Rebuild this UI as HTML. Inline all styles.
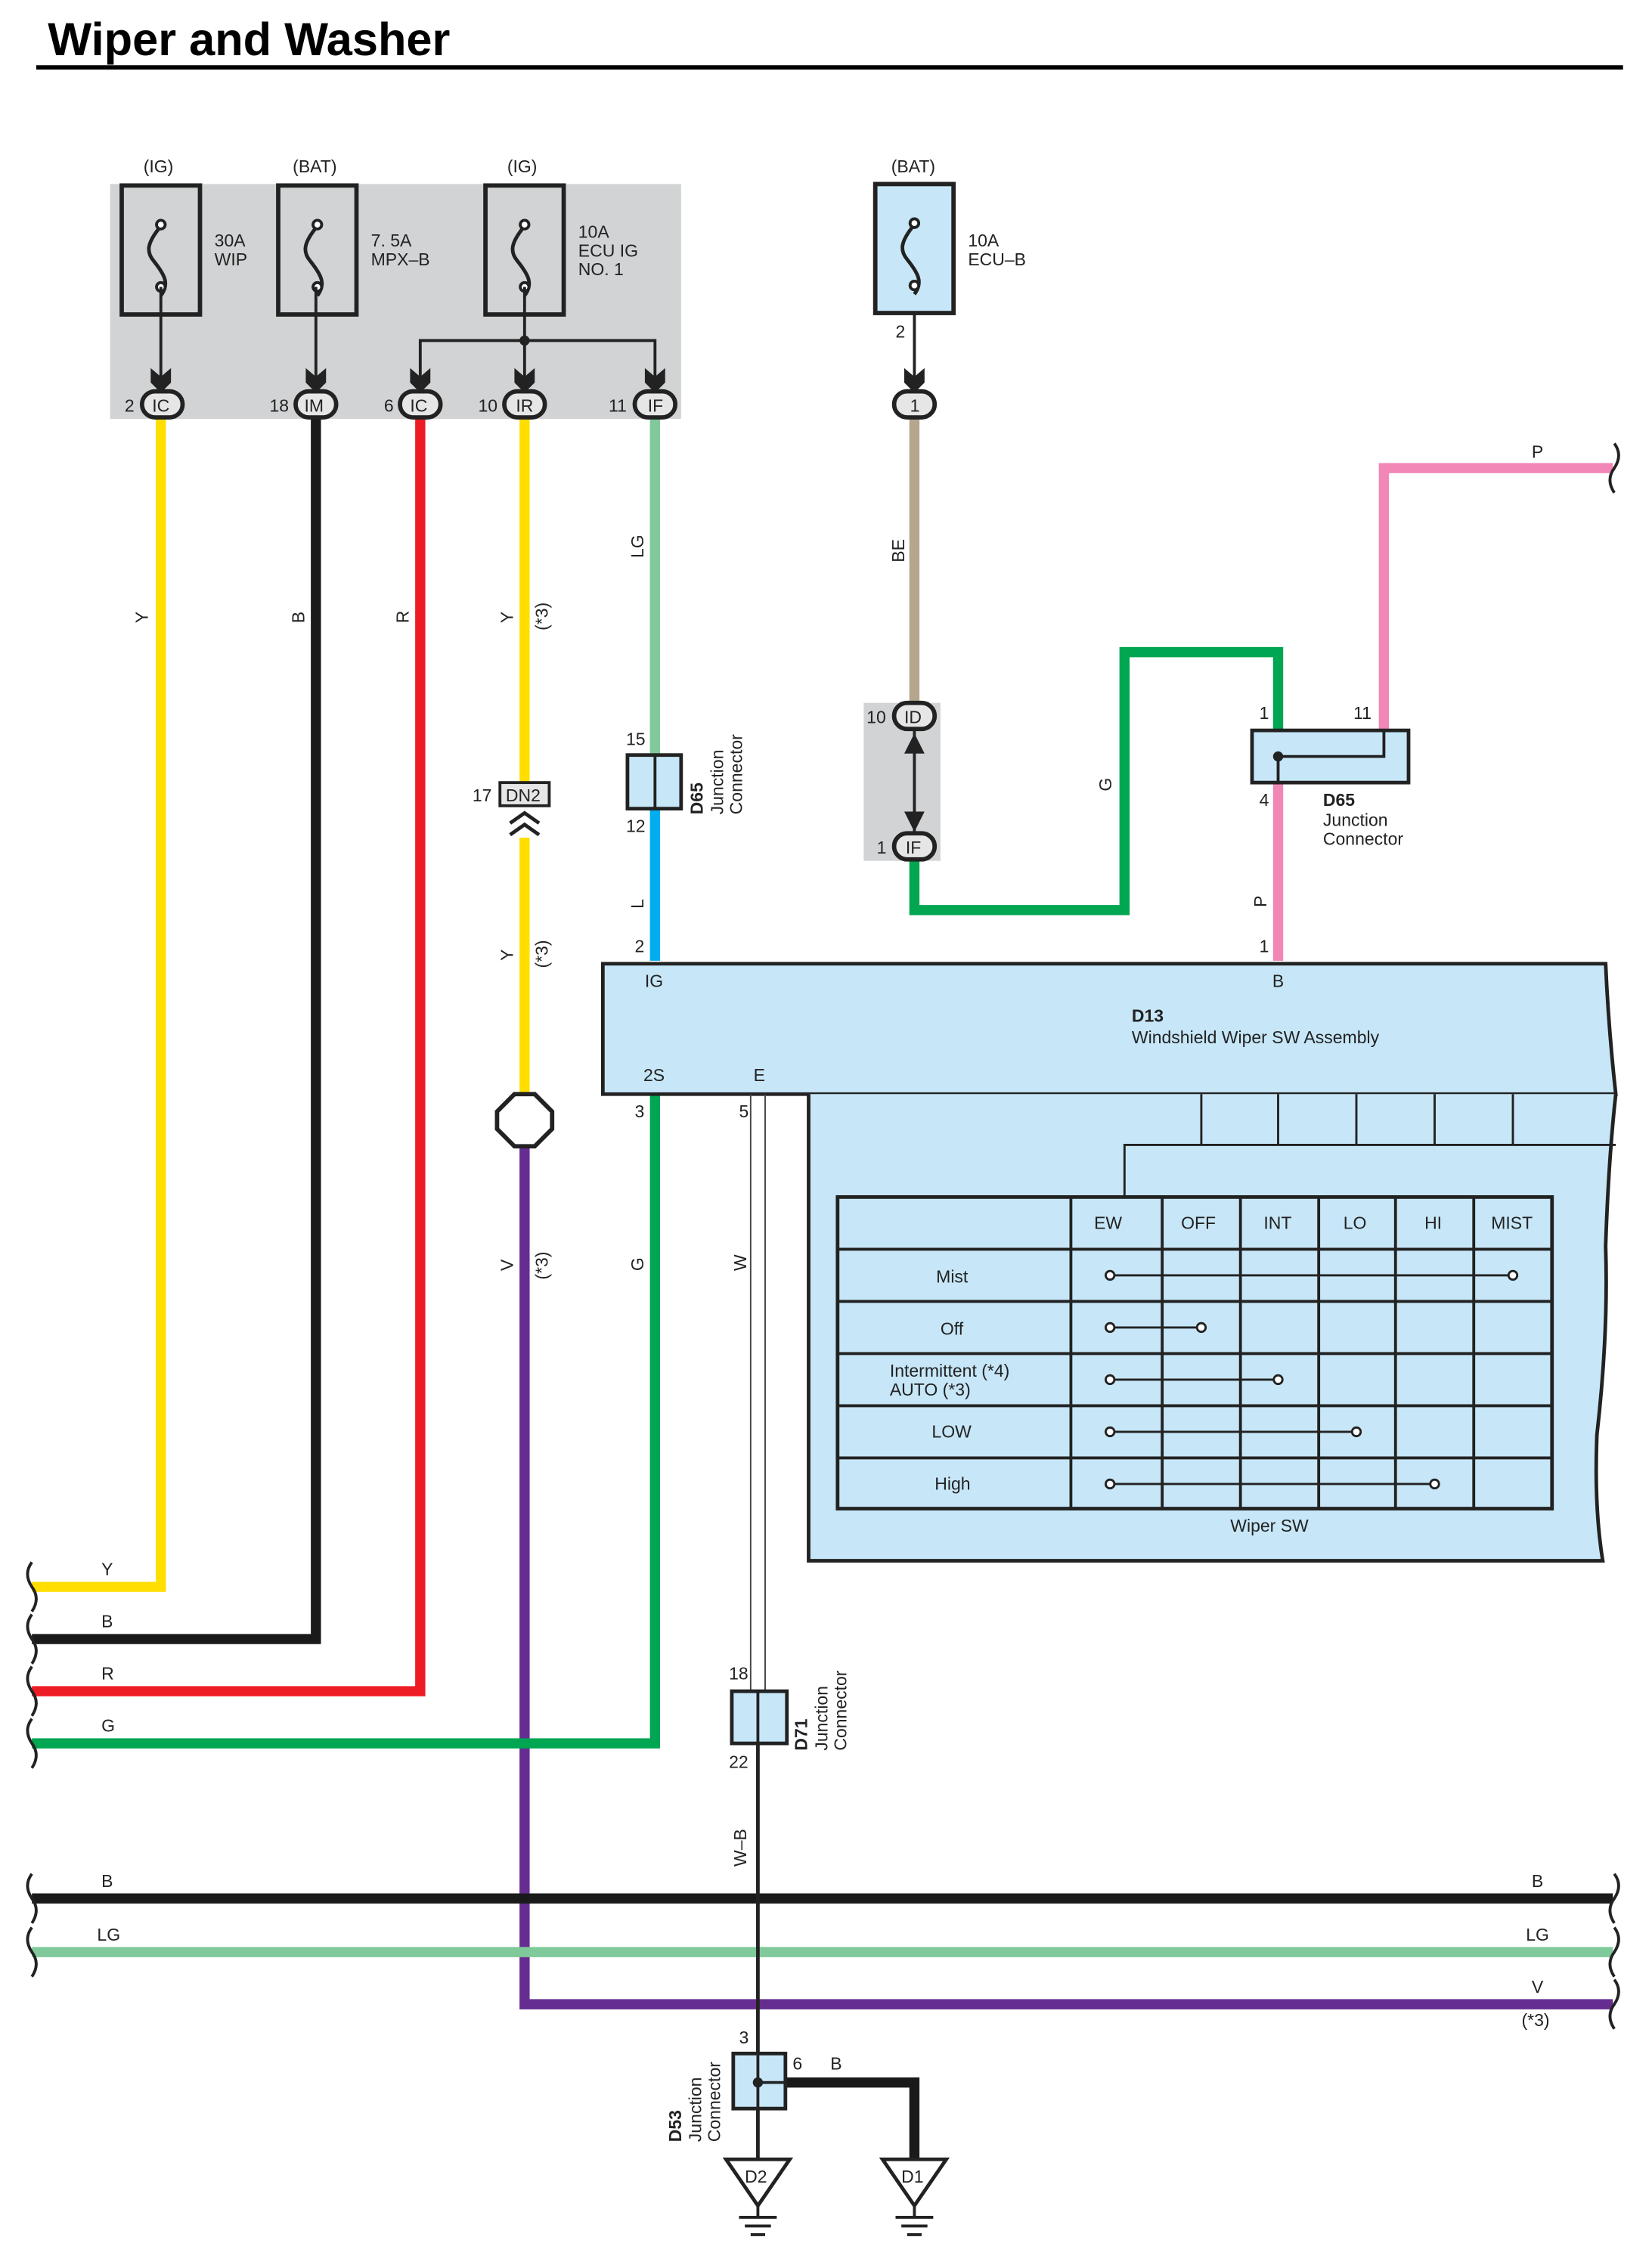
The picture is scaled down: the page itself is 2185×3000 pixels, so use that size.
<!DOCTYPE html>
<html><head><meta charset="utf-8"><style>
html,body{margin:0;padding:0;background:#fff;}
svg{display:block;}
text{font-family:"Liberation Sans",sans-serif;font-size:12px;fill:#222;}
</style></head><body>
<svg width="2185" height="3000" viewBox="0 0 1140 1565" preserveAspectRatio="none" xmlns="http://www.w3.org/2000/svg">
<defs>
<g id="fuse"><rect x="0" y="0" width="54" height="89" fill="none" stroke="#222" stroke-width="3"/>
<path d="M27 28 C17 40,17 46,22 52 C30 62,33 68,27 76" fill="none" stroke="#222" stroke-width="2.5"/>
<circle cx="27" cy="27" r="3" fill="#fff" stroke="#222" stroke-width="2"/><circle cx="27" cy="70" r="3" fill="#fff" stroke="#222" stroke-width="2"/></g>
<g id="arr"><path d="M-7 -14 L0 -8 L7 -14 L7 -4 L0 3 L-7 -4Z" fill="#222"/></g>
</defs>
<text x="33" y="38" style="font-size:32px;font-weight:bold;fill:#000">Wiper and Washer</text>
<rect x="25" y="45" width="1095" height="3" fill="#000"/>

<rect x="76" y="127" width="394" height="162" fill="#d1d3d4"/>
<use href="#fuse" x="84" y="128"/><use href="#fuse" x="192" y="128"/><use href="#fuse" x="335" y="128"/>
<text x="99" y="119">(IG)</text><text x="202" y="119">(BAT)</text><text x="350" y="119">(IG)</text>
<text x="148" y="170">30A</text><text x="148" y="183">WIP</text>
<text x="256" y="170">7. 5A</text><text x="256" y="183">MPX–B</text>
<text x="399" y="164">10A</text><text x="399" y="177">ECU IG</text><text x="399" y="190">NO. 1</text>
<g stroke="#222" stroke-width="2" fill="none">
<path d="M111 198V262M218 198V262M362 198V262M290 262V235H452V262"/></g>
<circle cx="362" cy="235" r="3.5" fill="#222"/>
<use href="#arr" x="111" y="268"/><use href="#arr" x="218" y="268"/><use href="#arr" x="290" y="268"/><use href="#arr" x="362" y="268"/><use href="#arr" x="452" y="268"/>

<g fill="none" stroke-width="7">
<path d="M111 289V1095H22" stroke="#ffde00"/>
<path d="M218 289V1131H22" stroke="#1a1a1a"/>
<path d="M290 289V1167H22" stroke="#ed1c24"/>
<path d="M362 289V540M362 578V755" stroke="#ffde00"/>
<path d="M362 790V1383H1113" stroke="#662d91"/>
<path d="M452 289V521" stroke="#80c99a"/>
<path d="M452 558V663" stroke="#00aeef"/>
<path d="M452 755V1203H22" stroke="#00a651"/>
<path d="M22 1310H1113" stroke="#1a1a1a"/>
<path d="M22 1347H1113" stroke="#80c99a"/>
<path d="M631 289V487" stroke="#b5a68e"/>
<path d="M631 592V628H776V450H882V505" stroke="#00a651"/>
<path d="M955 504V323H1113" stroke="#f287b7"/>
<path d="M882 540V663" stroke="#f287b7"/>
<path d="M542 1437H631V1490" stroke="#1a1a1a"/>
</g>
<g stroke="#222" stroke-width="3" fill="#e6e6e6">
<rect x="98" y="270" width="28" height="18" rx="9"/><rect x="204" y="270" width="28" height="18" rx="9"/><rect x="276" y="270" width="28" height="18" rx="9"/><rect x="348" y="270" width="28" height="18" rx="9"/><rect x="438" y="270" width="28" height="18" rx="9"/>
</g>
<text x="105" y="284">IC</text><text x="210" y="284">IM</text><text x="283" y="284">IC</text><text x="356" y="284">IR</text><text x="447" y="284">IF</text>
<text x="86" y="284">2</text><text x="186" y="284">18</text><text x="265" y="284">6</text><text x="330" y="284">10</text><text x="420" y="284">11</text>

<rect x="604" y="127" width="54" height="90" fill="#c7e7f8"/>
<use href="#fuse" x="604" y="127"/>
<text x="615" y="119">(BAT)</text><text x="668" y="170">10A</text><text x="668" y="183">ECU–B</text>
<path d="M631 217V262" stroke="#222" stroke-width="2"/><text x="618" y="233">2</text>
<use href="#arr" x="631" y="268"/>
<rect x="617" y="270" width="28" height="18" rx="9" stroke="#222" stroke-width="3" fill="#e6e6e6"/><text x="628" y="284">1</text>

<rect x="596" y="485" width="53" height="109" fill="#d1d3d4"/>
<path d="M631 504V576" stroke="#222" stroke-width="2"/>
<path d="M624 520L631 506L638 520ZM624 560L631 574L638 560Z" fill="#222"/>
<rect x="617" y="485" width="28" height="18" rx="9" stroke="#222" stroke-width="3" fill="#e6e6e6"/><text x="624" y="499">ID</text>
<rect x="617" y="575" width="28" height="18" rx="9" stroke="#222" stroke-width="3" fill="#e6e6e6"/><text x="625" y="589">IF</text>
<text x="598" y="499">10</text><text x="605" y="589">1</text>

<g style="font-size:12px">
<text transform="translate(102,430) rotate(-90)">Y</text>
<text transform="translate(210,430) rotate(-90)">B</text>
<text transform="translate(282,430) rotate(-90)">R</text>
<text transform="translate(354,430) rotate(-90)">Y</text>
<text transform="translate(378,435) rotate(-90)">(*3)</text>
<text transform="translate(444,385) rotate(-90)">LG</text>
<text transform="translate(444,627) rotate(-90)">L</text>
<text transform="translate(354,663) rotate(-90)">Y</text>
<text transform="translate(378,668) rotate(-90)">(*3)</text>
<text transform="translate(354,877) rotate(-90)">V</text>
<text transform="translate(378,883) rotate(-90)">(*3)</text>
<text transform="translate(444,877) rotate(-90)">G</text>
<text transform="translate(515,877) rotate(-90)">W</text>
<text transform="translate(515,1288) rotate(-90)">W–B</text>
<text transform="translate(624,388) rotate(-90)">BE</text>
<text transform="translate(767,546) rotate(-90)">G</text>
<text transform="translate(874,626) rotate(-90)">P</text>
</g>
<text x="70" y="1087">Y</text><text x="70" y="1123">B</text><text x="70" y="1159">R</text><text x="70" y="1195">G</text>
<text x="70" y="1302">B</text><text x="67" y="1339">LG</text>
<text x="1057" y="1302">B</text><text x="1053" y="1339">LG</text><text x="1057" y="1375">V</text><text x="1050" y="1398">(*3)</text>
<text x="1057" y="316">P</text>

<rect x="345" y="540" width="34" height="16" fill="#e6e6e6" stroke="#222" stroke-width="2"/><text x="349" y="553">DN2</text>
<text x="326" y="553">17</text>
<path d="M352 568L362 561L372 568M352 576L362 569L372 576" fill="none" stroke="#222" stroke-width="2.5"/>
<path d="M355 755H369L381 767V779L369 791H355L343 779V767Z" fill="#fff" stroke="#222" stroke-width="3"/>

<rect x="433" y="521" width="37" height="37" fill="#c7e7f8" stroke="#222" stroke-width="2.5"/><path d="M452 521V558" stroke="#222" stroke-width="2"/>
<text x="432" y="514">15</text><text x="432" y="574">12</text><text x="438" y="657">2</text>
<text transform="translate(485,562) rotate(-90)" style="font-weight:bold">D65</text>
<text transform="translate(499,562) rotate(-90)">Junction</text><text transform="translate(512,562) rotate(-90)">Connector</text>

<rect x="864" y="504" width="108" height="36" fill="#c7e7f8" stroke="#222" stroke-width="2.5"/>
<path d="M882 522H955V504M882 522V540" stroke="#222" stroke-width="2" fill="none"/><circle cx="882" cy="522" r="3.5" fill="#222"/>
<text x="869" y="496">1</text><text x="934" y="496">11</text><text x="869" y="556">4</text><text x="869" y="657">1</text>
<text x="913" y="556" style="font-weight:bold">D65</text><text x="913" y="570">Junction</text><text x="913" y="583">Connector</text>

<path d="M416 665H1108Q1110 710 1115 755H416Z" fill="#c7e7f8" stroke="#222" stroke-width="2.5"/>
<path d="M558 755V1077H1106Q1100 1040 1102 990Q1110 920 1108 860Q1110 800 1115 755" fill="#c7e7f8" stroke="#222" stroke-width="2.5"/>
<text x="445" y="681">IG</text><text x="878" y="681">B</text><text x="444" y="746">2S</text><text x="520" y="746">E</text>
<text x="781" y="705" style="font-weight:bold">D13</text><text x="781" y="720">Windshield Wiper SW Assembly</text>
<text x="438" y="771">3</text><text x="510" y="771">5</text>
<g stroke="#222" stroke-width="1.5" fill="none">
<path d="M829 755V790M882 755V790M936 755V790M990 755V790M1044 755V790M776 826V790H1115"/>
</g>
<g stroke="#222" fill="none">
<rect x="578" y="826" width="493" height="215" stroke-width="2.5"/>
<path d="M739 826V1041M802 826V1041M856 826V1041M910 826V1041M963 826V1041M1017 826V1041M578 862H1071M578 898H1071M578 934H1071M578 970H1071M578 1006H1071" stroke-width="2"/>
<path d="M766 880H1044M766 916H829M766 952H882M766 988H936M766 1024H990" stroke-width="1.5"/>
</g>
<g fill="#fff" stroke="#222" stroke-width="1.5">
<circle cx="766" cy="880" r="3"/><circle cx="1044" cy="880" r="3"/><circle cx="766" cy="916" r="3"/><circle cx="829" cy="916" r="3"/><circle cx="766" cy="952" r="3"/><circle cx="882" cy="952" r="3"/><circle cx="766" cy="988" r="3"/><circle cx="936" cy="988" r="3"/><circle cx="766" cy="1024" r="3"/><circle cx="990" cy="1024" r="3"/></g>
<text x="755" y="848">EW</text><text x="815" y="848">OFF</text><text x="872" y="848">INT</text><text x="927" y="848">LO</text><text x="983" y="848">HI</text><text x="1029" y="848">MIST</text>
<text x="646" y="885">Mist</text><text x="649" y="921">Off</text><text x="614" y="950">Intermittent (*4)</text><text x="614" y="963">AUTO (*3)</text><text x="643" y="992">LOW</text><text x="645" y="1028">High</text>
<text x="849" y="1057">Wiper SW</text>

<path d="M518 755V1167M528 755V1167" stroke="#444" stroke-width="1"/>
<path d="M523 1203V1417M523 1455V1490" stroke="#222" stroke-width="2.5"/>
<rect x="505" y="1167" width="38" height="36" fill="#c7e7f8" stroke="#222" stroke-width="2.5"/><path d="M523 1167V1203" stroke="#222" stroke-width="2"/>
<text x="503" y="1159">18</text><text x="503" y="1220">22</text>
<text transform="translate(557,1208) rotate(-90)" style="font-weight:bold">D71</text>
<text transform="translate(571,1208) rotate(-90)">Junction</text><text transform="translate(584,1208) rotate(-90)">Connector</text>

<rect x="506" y="1417" width="36" height="38" fill="#c7e7f8" stroke="#222" stroke-width="2.5"/>
<path d="M523 1417V1455M523 1437H542" stroke="#222" stroke-width="2"/><circle cx="523" cy="1437" r="3.5" fill="#222"/>
<text x="510" y="1410">3</text><text x="547" y="1428">6</text><text x="573" y="1428">B</text>
<text transform="translate(470,1478) rotate(-90)" style="font-weight:bold">D53</text>
<text transform="translate(484,1478) rotate(-90)">Junction</text><text transform="translate(497,1478) rotate(-90)">Connector</text>

<g fill="#fff" stroke="#222" stroke-width="2.5">
<path d="M501 1490H545L523 1522Z"/><path d="M609 1490H653L631 1522Z"/></g>
<g stroke="#222" stroke-width="2">
<path d="M523 1522V1530M510 1530H536M514 1536H532M518 1542H528M631 1522V1530M618 1530H644M622 1536H640M626 1542H636"/></g>
<text x="514" y="1506">D2</text><text x="622" y="1506">D1</text>

<g fill="none" stroke="#222" stroke-width="2">
<path d="M22 1078q-6 8 0 17q6 8 0 17"/><path d="M22 1114q-6 8 0 17q6 8 0 17"/><path d="M22 1150q-6 8 0 17q6 8 0 17"/><path d="M22 1186q-6 8 0 17q6 8 0 17"/>
<path d="M22 1293q-6 8 0 17q6 8 0 17"/><path d="M22 1330q-6 8 0 17q6 8 0 17"/>
<path d="M1114 1293q6 8 0 17q-6 8 0 17"/><path d="M1114 1330q6 8 0 17q-6 8 0 17"/><path d="M1114 1366q6 8 0 17q-6 8 0 17"/>
<path d="M1114 306q6 8 0 17q-6 8 0 17"/>
</g>
</svg>
</body></html>
